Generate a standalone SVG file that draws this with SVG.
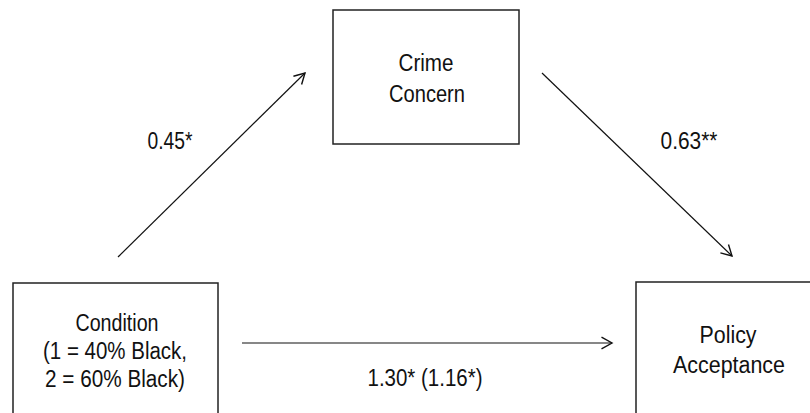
<svg xmlns="http://www.w3.org/2000/svg" width="810" height="413" viewBox="0 0 810 413">
<style>
.box{fill:#fff;stroke:#222;stroke-width:1.5}
.t{font-family:"Liberation Sans",Arial,sans-serif;font-size:23px;fill:#111;text-anchor:middle}
.c{stroke:#111;stroke-width:1.2;fill:none;marker-end:url(#ah)}
</style>
<defs>
<marker id="ah" markerUnits="userSpaceOnUse" markerWidth="14" markerHeight="14" refX="10" refY="6" orient="auto" viewBox="0 0 12 12">
<path d="M1,1 L10,6 L1,11" fill="none" stroke="#111" stroke-width="1.2"/>
</marker>
</defs>
<rect width="810" height="413" fill="#fff"/>
<g id="connectors">
<line class="c" x1="118" y1="257" x2="305" y2="73"/>
<line class="c" x1="542" y1="73" x2="732" y2="256"/>
<line class="c" x1="242" y1="343" x2="612" y2="343"/>
<text class="t" x="170" y="149" textLength="45" lengthAdjust="spacingAndGlyphs">0.45*</text>
<text class="t" x="689" y="149" textLength="57" lengthAdjust="spacingAndGlyphs">0.63**</text>
<text class="t" x="425" y="386" textLength="115" lengthAdjust="spacingAndGlyphs">1.30* (1.16*)</text>
</g>
<g id="crime">
<rect class="box" x="333" y="10" width="186" height="134"/>
<text class="t" x="426" y="71" textLength="55" lengthAdjust="spacingAndGlyphs">Crime</text>
<text class="t" x="427" y="102" textLength="76" lengthAdjust="spacingAndGlyphs">Concern</text>
</g>
<g id="condition">
<rect class="box" x="13" y="283" width="205" height="140"/>
<text class="t" x="117" y="331" textLength="83" lengthAdjust="spacingAndGlyphs">Condition</text>
<text class="t" x="115" y="359" textLength="144" lengthAdjust="spacingAndGlyphs">(1 = 40% Black,</text>
<text class="t" x="115" y="387" textLength="140" lengthAdjust="spacingAndGlyphs">2 = 60% Black)</text>
</g>
<g id="policy">
<rect class="box" x="636" y="282" width="190" height="140"/>
<text class="t" x="728" y="343" textLength="57" lengthAdjust="spacingAndGlyphs">Policy</text>
<text class="t" x="729" y="373" textLength="112" lengthAdjust="spacingAndGlyphs">Acceptance</text>
</g>
</svg>
